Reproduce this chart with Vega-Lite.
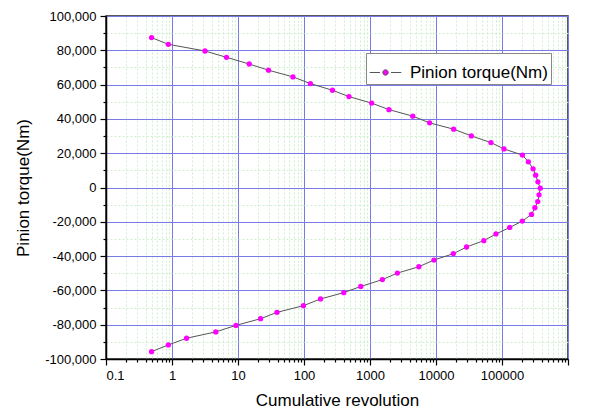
{
  "$schema": "https://vega.github.io/schema/vega-lite/v6.json",
  "width": 462,
  "height": 343,
  "autosize": {"type": "none"},
  "padding": {"left": 106, "top": 16, "right": 36, "bottom": 54},
  "background": "white",
  "config": {
    "font": "Liberation Sans",
    "view": {"stroke": "#222", "strokeWidth": 1.5},
    "axis": {
      "labelFont": "Liberation Sans",
      "labelFontSize": 13,
      "labelColor": "#000",
      "titleFont": "Liberation Sans",
      "titleFontSize": 17,
      "titleFontWeight": "normal",
      "titleColor": "#000",
      "tickColor": "#000",
      "domainColor": "#000",
      "domainWidth": 1.5,
      "tickWidth": 1.2
    }
  },
  "data": {
    "values": [
      {"i": 1, "rev": 0.49, "torque": 87400, "s": "Pinion torque(Nm)"},
      {"i": 2, "rev": 0.88, "torque": 83500, "s": "Pinion torque(Nm)"},
      {"i": 3, "rev": 3.16, "torque": 79600, "s": "Pinion torque(Nm)"},
      {"i": 4, "rev": 6.7, "torque": 75900, "s": "Pinion torque(Nm)"},
      {"i": 5, "rev": 14.8, "torque": 72000, "s": "Pinion torque(Nm)"},
      {"i": 6, "rev": 29, "torque": 68400, "s": "Pinion torque(Nm)"},
      {"i": 7, "rev": 68, "torque": 64500, "s": "Pinion torque(Nm)"},
      {"i": 8, "rev": 125, "torque": 60600, "s": "Pinion torque(Nm)"},
      {"i": 9, "rev": 270, "torque": 56700, "s": "Pinion torque(Nm)"},
      {"i": 10, "rev": 480, "torque": 53000, "s": "Pinion torque(Nm)"},
      {"i": 11, "rev": 1060, "torque": 49200, "s": "Pinion torque(Nm)"},
      {"i": 12, "rev": 1940, "torque": 45400, "s": "Pinion torque(Nm)"},
      {"i": 13, "rev": 4450, "torque": 41600, "s": "Pinion torque(Nm)"},
      {"i": 14, "rev": 8000, "torque": 37700, "s": "Pinion torque(Nm)"},
      {"i": 15, "rev": 18500, "torque": 34000, "s": "Pinion torque(Nm)"},
      {"i": 16, "rev": 34300, "torque": 30100, "s": "Pinion torque(Nm)"},
      {"i": 17, "rev": 68000, "torque": 26200, "s": "Pinion torque(Nm)"},
      {"i": 18, "rev": 107000, "torque": 22500, "s": "Pinion torque(Nm)"},
      {"i": 19, "rev": 204000, "torque": 18900, "s": "Pinion torque(Nm)"},
      {"i": 20, "rev": 251000, "torque": 15000, "s": "Pinion torque(Nm)"},
      {"i": 21, "rev": 296000, "torque": 10900, "s": "Pinion torque(Nm)"},
      {"i": 22, "rev": 324000, "torque": 7200, "s": "Pinion torque(Nm)"},
      {"i": 23, "rev": 350000, "torque": 3300, "s": "Pinion torque(Nm)"},
      {"i": 24, "rev": 380000, "torque": -400, "s": "Pinion torque(Nm)"},
      {"i": 25, "rev": 364000, "torque": -4300, "s": "Pinion torque(Nm)"},
      {"i": 26, "rev": 348000, "torque": -8200, "s": "Pinion torque(Nm)"},
      {"i": 27, "rev": 315000, "torque": -11800, "s": "Pinion torque(Nm)"},
      {"i": 28, "rev": 280000, "torque": -15700, "s": "Pinion torque(Nm)"},
      {"i": 29, "rev": 203000, "torque": -19600, "s": "Pinion torque(Nm)"},
      {"i": 30, "rev": 131000, "torque": -23300, "s": "Pinion torque(Nm)"},
      {"i": 31, "rev": 81000, "torque": -27100, "s": "Pinion torque(Nm)"},
      {"i": 32, "rev": 53000, "torque": -31000, "s": "Pinion torque(Nm)"},
      {"i": 33, "rev": 29000, "torque": -34700, "s": "Pinion torque(Nm)"},
      {"i": 34, "rev": 18300, "torque": -38600, "s": "Pinion torque(Nm)"},
      {"i": 35, "rev": 9300, "torque": -42300, "s": "Pinion torque(Nm)"},
      {"i": 36, "rev": 5500, "torque": -46200, "s": "Pinion torque(Nm)"},
      {"i": 37, "rev": 2600, "torque": -49900, "s": "Pinion torque(Nm)"},
      {"i": 38, "rev": 1540, "torque": -53700, "s": "Pinion torque(Nm)"},
      {"i": 39, "rev": 725, "torque": -57700, "s": "Pinion torque(Nm)"},
      {"i": 40, "rev": 400, "torque": -61300, "s": "Pinion torque(Nm)"},
      {"i": 41, "rev": 178, "torque": -65000, "s": "Pinion torque(Nm)"},
      {"i": 42, "rev": 98, "torque": -68900, "s": "Pinion torque(Nm)"},
      {"i": 43, "rev": 39, "torque": -72800, "s": "Pinion torque(Nm)"},
      {"i": 44, "rev": 22, "torque": -76500, "s": "Pinion torque(Nm)"},
      {"i": 45, "rev": 9.3, "torque": -80400, "s": "Pinion torque(Nm)"},
      {"i": 46, "rev": 4.6, "torque": -84200, "s": "Pinion torque(Nm)"},
      {"i": 47, "rev": 1.66, "torque": -87900, "s": "Pinion torque(Nm)"},
      {"i": 48, "rev": 0.88, "torque": -91800, "s": "Pinion torque(Nm)"},
      {"i": 49, "rev": 0.49, "torque": -95700, "s": "Pinion torque(Nm)"}
    ]
  },
  "layer": [
    {
      "mark": {"type": "line", "color": "#555", "strokeWidth": 1},
      "encoding": {
        "x": {
          "field": "rev", "type": "quantitative",
          "scale": {"type": "log", "domain": [0.1, 1000000], "nice": false},
          "axis": {
            "orient": "bottom",
            "values": [0.2,0.3,0.4,0.5,0.6,0.7,0.8,0.9,2,3,4,5,6,7,8,9,20,30,40,50,60,70,80,90,200,300,400,500,600,700,800,900,2000,3000,4000,5000,6000,7000,8000,9000,20000,30000,40000,50000,60000,70000,80000,90000,200000,300000,400000,500000,600000,700000,800000,900000],
            "grid": true, "gridColor": "#cfefcf", "gridDash": [2, 2], "gridWidth": 1,
            "labels": false, "domain": false, "tickSize": 3, "title": null
          }
        },
        "y": {
          "field": "torque", "type": "quantitative",
          "scale": {"domain": [-100000, 100000], "nice": false, "zero": false},
          "axis": {
            "orient": "left",
            "values": [-90000,-70000,-50000,-30000,-10000,10000,30000,50000,70000,90000],
            "grid": true, "gridColor": "#cfefcf", "gridDash": [2, 2], "gridWidth": 1,
            "labels": false, "domain": false, "tickSize": 3, "title": null
          }
        },
        "order": {"field": "i", "type": "quantitative"}
      }
    },
    {
      "mark": {"type": "point", "filled": true, "opacity": 1, "size": 28, "strokeWidth": 0},
      "encoding": {
        "x": {
          "field": "rev", "type": "quantitative",
          "axis": {
            "orient": "bottom",
            "values": [0.1, 1, 10, 100, 1000, 10000, 100000, 1000000],
            "labelExpr": "datum.value < 1 ? '0.1' : format(datum.value, 'd')",
            "grid": true, "gridColor": "#7a7ae6", "gridWidth": 1,
            "tickSize": 6, "labelPadding": 4,
            "title": "Cumulative revolution",
            "titleX": 231, "titleY": 41, "titleBaseline": "middle"
          }
        },
        "y": {
          "field": "torque", "type": "quantitative",
          "axis": {
            "orient": "left",
            "values": [-100000,-80000,-60000,-40000,-20000,0,20000,40000,60000,80000,100000],
            "labelExpr": "replace(format(datum.value, ','), '\u2212', '-')",
            "grid": true, "gridColor": "#7a7ae6", "gridWidth": 1,
            "tickSize": 6, "labelPadding": 4,
            "title": "Pinion torque(Nm)",
            "titleX": -83, "titleY": 171.5, "titleBaseline": "middle", "titleAngle": -90
          }
        },
        "color": {
          "field": "s", "type": "nominal",
          "scale": {"domain": ["Pinion torque(Nm)"], "range": ["#ff00ff"]},
          "legend": {
            "title": null,
            "orient": "none",
            "legendX": 260,
            "legendY": 37,
            "strokeColor": "#888",
            "fillColor": "white",
            "padding": 3,
            "labelFont": "Liberation Sans",
            "labelFontSize": 17,
            "labelColor": "#000",
            "labelOffset": 8,
            "symbolType": "M-1,0H-0.35M0.35,0H1M0.17,0A0.17,0.17 0 1,1 -0.17,0A0.17,0.17 0 1,1 0.17,0Z",
            "symbolSize": 1000,
            "symbolStrokeColor": "#555",
            "symbolStrokeWidth": 1
          }
        }
      }
    }
  ],
  "resolve": {"axis": {"x": "independent", "y": "independent"}}
}
